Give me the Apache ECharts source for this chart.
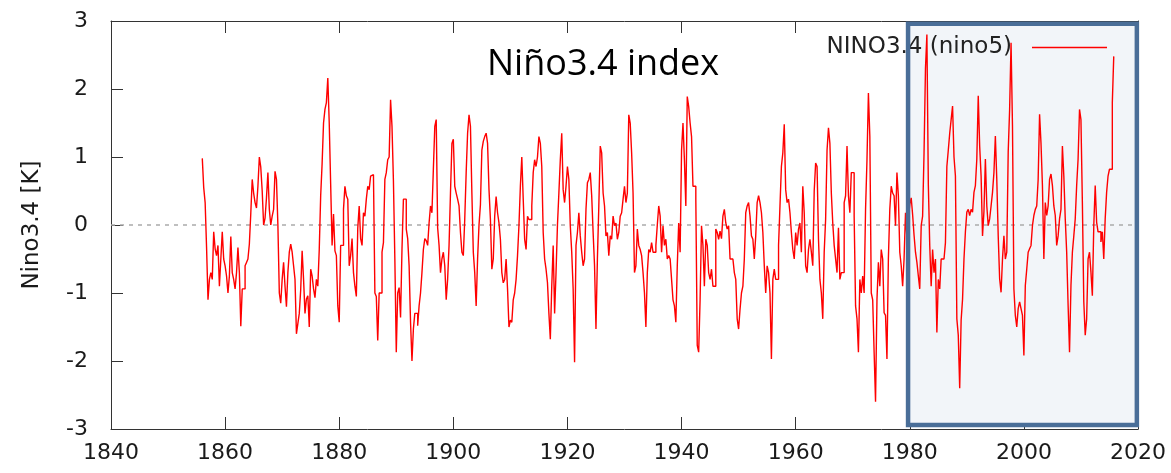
<!DOCTYPE html>
<html>
<head>
<meta charset="utf-8">
<title>Niño3.4 index</title>
<script src="https://cdn.jsdelivr.net/npm/echarts@6/dist/echarts.min.js"></script>
<style>
  html, body { margin: 0; padding: 0; background: #ffffff; }
  #chart { width: 1171px; height: 473px; }
</style>
</head>
<body>
<div id="chart"></div>
<script>
// Niño3.4 SST anomaly [K], quarterly values starting in 1856
const START_YEAR = 1856;
const STEP = 0.25;

const nino1850s = [
  0.98, 0.55, 0.33, -0.33,
  -1.1, -0.8, -0.7, -0.8,
  -0.1, -0.35, -0.45, -0.3,
  -0.9, -0.5, -0.1, -0.5
];
const nino1860s = [
  -0.6, -0.75, -1.0, -0.75,
  -0.17, -0.7, -0.8, -0.94,
  -0.7, -0.33, -0.7, -1.49,
  -0.94, -0.94, -0.6, -0.55,
  -0.5, -0.28, 0.17, 0.67,
  0.47, 0.33, 0.25, 0.57,
  1.0, 0.85, 0.5, 0.0,
  0.1, 0.4, 0.77, 0.23,
  0.0, 0.13, 0.23, 0.79,
  0.67, 0.0, -1.0, -1.15
];
const nino1870s = [
  -0.8, -0.55, -0.9, -1.2,
  -0.7, -0.4, -0.28, -0.4,
  -0.6, -0.8, -1.6, -1.45,
  -1.3, -0.95, -0.38, -0.8,
  -1.3, -1.09, -1.04, -1.5,
  -0.65, -0.75, -0.94, -1.07,
  -0.8, -0.9, -0.36, 0.43,
  0.9, 1.5, 1.7, 1.8,
  2.16, 1.5, 0.6, -0.3,
  0.16, -0.38, -0.45, -1.19
];
const nino1880s = [
  -1.43, -0.3, -0.3, 0.23,
  0.57, 0.43, 0.38, -0.6,
  -0.45, -0.2, -0.7, -0.9,
  -1.05, -0.05, 0.28, -0.2,
  -0.3, 0.18, 0.13, 0.38,
  0.57, 0.52, 0.72, 0.74,
  0.72, -1.0, -1.05, -1.7,
  -1.0, -1.0, -0.4, -0.26,
  0.67, 0.77, 0.96, 1.0,
  1.84, 1.45, 0.65, -0.5
];
const nino1890s = [
  -1.87, -1.0, -0.92, -1.36,
  -0.36, 0.38, 0.38, -0.06,
  -0.2, -0.6, -1.43, -2.0,
  -1.53, -1.3, -1.3, -1.48,
  -1.19, -1.0, -0.7, -0.36,
  -0.2, -0.23, -0.3, 0.03,
  0.28, 0.18, 0.82, 1.45,
  1.55, -0.04, -0.3, -0.7,
  -0.5, -0.4, -0.6, -1.1,
  -0.8, -0.3, 0.47, 1.2
];
const nino1900s = [
  1.26, 0.57, 0.47, 0.38,
  0.28, -0.11, -0.4, -0.45,
  0.08, 0.77, 1.35, 1.62,
  1.45, 0.47, -0.4, -0.7,
  -1.19, -0.5, 0.0, 0.3,
  1.1, 1.23, 1.3, 1.35,
  1.2, 0.52, 0.08, -0.65,
  -0.5, 0.13, 0.42, 0.18,
  0.03, -0.21, -0.7, -0.85,
  -0.8, -0.5, -0.94, -1.5
];
const nino1910s = [
  -1.4, -1.43, -1.1, -1.0,
  -0.8, -0.45, -0.01, 0.57,
  1.0, 0.38, -0.21, -0.36,
  0.13, 0.08, 0.08, 0.28,
  0.77, 0.96, 0.86, 1.0,
  1.3, 1.2, 0.86, -0.11,
  -0.5, -0.65, -0.85, -1.3,
  -1.68, -0.9, -0.3, -1.3,
  -0.7, 0.0, 0.47, 0.96,
  1.35, 0.52, 0.33, 0.57
];
const nino1920s = [
  0.86, 0.67, -0.01, -0.4,
  -0.94, -2.02, -0.3, -0.11,
  0.18, -0.16, -0.4, -0.6,
  -0.5, 0.23, 0.62, 0.67,
  0.77, 0.43, -0.11, -0.6,
  -1.53, -0.5, 0.28, 1.16,
  1.06, 0.47, 0.28, -0.16,
  -0.11, -0.45, -0.16, -0.21,
  0.13, -0.01, 0.03, -0.21,
  -0.11, 0.13, 0.18, 0.38
];
const nino1930s = [
  0.57, 0.33, 0.47, 1.62,
  1.5, 1.06, 0.47, -0.7,
  -0.6, -0.06, -0.3, -0.36,
  -0.45, -0.7, -1.0, -1.5,
  -0.7, -0.36, -0.4, -0.26,
  -0.4, -0.4, -0.3, 0.0,
  0.28, 0.13, -0.4, -0.01,
  -0.3, -0.21, -0.5, -0.45,
  -0.5, -0.8, -1.1, -1.19,
  -1.43, -0.6, 0.03, -0.4
];
const nino1940s = [
  1.1, 1.5, 0.96, 0.28,
  1.89, 1.74, 1.5, 1.3,
  0.57, 0.57, 0.38, -1.77,
  -1.87, -1.1, -0.01, -0.3,
  -0.9, -0.21, -0.3, -0.7,
  -0.8, -0.65, -0.9, -0.9,
  -0.06, -0.11, -0.21, -0.09,
  -0.2, 0.13, 0.23, 0.03,
  -0.06, -0.01, -0.5, -0.5,
  -0.5, -0.7, -0.8, -1.38
];
const nino1950s = [
  -1.53, -1.24, -1.0, -0.9,
  -0.5, 0.18, 0.28, 0.33,
  0.13, -0.16, -0.21, -0.5,
  -0.16, 0.33, 0.43, 0.33,
  0.18, -0.11, -0.6, -1.0,
  -0.6, -0.7, -1.0, -1.97,
  -0.8, -0.65, -0.8, -0.8,
  -0.3, 0.28, 0.86, 1.06,
  1.48, 0.52, 0.33, 0.38,
  0.18, -0.11, -0.36, -0.5
];
const nino1960s = [
  -0.11, -0.3, -0.06, 0.03,
  -0.4, 0.57, 0.18, -0.6,
  -0.7, -0.36, -0.21, -0.4,
  -0.6, 0.5, 0.91, 0.86,
  -0.21, -0.8, -1.0, -1.38,
  -0.4, 0.08, 1.1, 1.43,
  1.2, 0.47, 0.03, -0.3,
  -0.5, -0.7, -0.04, -0.8,
  -0.7, -0.7, 0.33, 0.43,
  1.16, 0.43, 0.18, 0.77
];
const nino1970s = [
  0.77, 0.13, -1.19, -1.38,
  -1.87, -0.8, -1.0, -0.75,
  -1.0, 0.23, 0.96, 1.94,
  1.3, -1.0, -1.1, -1.87,
  -2.6, -1.1, -0.55, -0.9,
  -0.36, -0.5, -1.29, -1.33,
  -1.97, -0.5, 0.23, 0.57,
  0.47, 0.43, -0.01, 0.77,
  0.43, -0.4, -0.6, -0.9,
  -0.5, 0.18, -0.2, 0.1
];
const nino1980s = [
  0.3, 0.4, 0.15, -0.15,
  -0.4, -0.55, -0.75, -0.94,
  -0.01, 0.13, 1.06, 2.3,
  2.8, 0.6, -0.3, -0.9,
  -0.36, -0.7, -0.5, -1.58,
  -0.8, -0.94, -0.5, -0.5,
  -0.5, -0.26, 0.86, 1.1,
  1.35, 1.55, 1.75, 1.0,
  0.72, -1.38, -1.62, -2.4,
  -1.4, -1.09, -0.5, -0.1
];
const nino1990s = [
  0.19, 0.23, 0.14, 0.23,
  0.19, 0.48, 0.58, 0.97,
  1.9, 1.16, 0.72, -0.16,
  0.2, 0.97, 0.28, -0.01,
  0.09, 0.28, 0.48, 0.77,
  1.31, 0.67, -0.16, -0.79,
  -0.99, -0.5, -0.16, -0.5,
  -0.4, 1.07, 1.7, 2.68,
  1.46, -0.94, -1.33, -1.5,
  -1.23, -1.13, -1.23, -1.33
];
const nino2000s = [
  -1.92, -0.89, -0.65, -0.4,
  -0.35, -0.3, -0.01, 0.14,
  0.23, 0.28, 0.67, 1.63,
  1.2, 0.58, -0.5, 0.33,
  0.14, 0.28, 0.67, 0.75,
  0.58, 0.28, 0.14, -0.3,
  -0.16, 0.09, 0.23, 1.16,
  0.72, 0.09, -0.4, -1.18,
  -1.87, -0.89, -0.4, -0.16,
  0.09, 0.58, 0.97, 1.7
];
const nino2010s = [
  1.55, 0.33, -1.13, -1.62,
  -1.38, -0.5, -0.4, -0.69,
  -1.04, -0.01, 0.58, 0.04,
  -0.1, -0.1, -0.25, -0.1,
  -0.5, 0.09, 0.48, 0.72,
  0.82, 0.82, 1.8, 2.48
];

// Axis extents and labels
const xAxisRange = [1840, 2020];
const xAxisStep = 20;
const yAxisRange = [-3, 3];
const yAxisStep = 1;

// Highlighted recent period (years, anomaly extent)
const highlightYears = [1979.7, 2019.8];
const highlightValues = [2.96, -2.94];

const seriesName = 'NINO3.4 (nino5)';
const chartTitle = 'Niño3.4 index';
const yAxisTitle = 'Nino3.4 [K]';

const ninoValues = [].concat(
  nino1850s, nino1860s, nino1870s, nino1880s, nino1890s,
  nino1900s, nino1910s, nino1920s, nino1930s, nino1940s,
  nino1950s, nino1960s, nino1970s, nino1980s, nino1990s,
  nino2000s, nino2010s
);
const ninoPoints = ninoValues.map((v, i) => [START_YEAR + i * STEP, v]);

const frameColor = '#333333';
const labelFont = 'DejaVu Sans';

const baseX = {
  type: 'value',
  min: xAxisRange[0], max: xAxisRange[1], interval: xAxisStep,
  splitLine: { show: false },
  axisLine: { show: true, onZero: false, lineStyle: { color: frameColor, width: 1 } },
  axisTick: { show: true, inside: true, length: 12, lineStyle: { color: frameColor, width: 1 } }
};
const baseY = {
  type: 'value',
  min: yAxisRange[0], max: yAxisRange[1], interval: yAxisStep,
  splitLine: { show: false },
  axisLine: { show: true, onZero: false, lineStyle: { color: frameColor, width: 1 } },
  axisTick: { show: true, inside: true, length: 12, lineStyle: { color: frameColor, width: 1 } }
};

const chart = echarts.init(document.getElementById('chart'), null, { renderer: 'canvas' });

chart.setOption({
  animation: false,
  backgroundColor: '#ffffff',
  grid: { left: 111, right: 33, top: 21, bottom: 44, containLabel: false },
  graphic: [{
    type: 'text',
    x: 487, y: 65,
    z: 20,
    style: {
      text: chartTitle,
      font: '36px "Open Sans"',
      fill: '#000000',
      align: 'left',
      verticalAlign: 'middle'
    }
  }],
  legend: {
    data: [seriesName],
    right: 59,
    top: 31,
    align: 'right',
    icon: 'rect',
    itemWidth: 75,
    itemHeight: 1.5,
    selectedMode: false,
    textStyle: {
      fontFamily: labelFont,
      fontSize: 23,
      color: '#222222',
      padding: [0, 15, 0, 0]
    }
  },
  xAxis: [
    Object.assign({}, baseX, {
      position: 'bottom',
      axisLabel: {
        show: true, margin: 13, fontFamily: labelFont, fontSize: 22, color: '#1a1a1a',
        formatter: (v) => String(v)
      }
    }),
    Object.assign({}, baseX, { position: 'top', axisLabel: { show: false } })
  ],
  yAxis: [
    Object.assign({}, baseY, {
      position: 'left',
      name: yAxisTitle,
      nameLocation: 'middle',
      nameGap: 67,
      nameRotate: 90,
      nameTextStyle: { fontFamily: labelFont, fontSize: 23, color: '#1a1a1a' },
      axisLabel: { show: true, margin: 23, fontFamily: labelFont, fontSize: 22, color: '#1a1a1a' }
    }),
    Object.assign({}, baseY, { position: 'right', axisLabel: { show: false } })
  ],
  series: [
    {
      name: seriesName,
      type: 'line',
      xAxisIndex: 0,
      yAxisIndex: 0,
      data: ninoPoints,
      step: 'end',
      showSymbol: false,
      symbol: 'none',
      color: '#ff0000',
      lineStyle: { color: '#ff0000', width: 1.4 },
      z: 3,
      silent: true,
      markArea: {
        silent: true,
        z: 1,
        itemStyle: { color: '#f2f5f9', borderWidth: 0 },
        data: [[
          { xAxis: highlightYears[0], yAxis: highlightValues[0] },
          { xAxis: highlightYears[1], yAxis: highlightValues[1] }
        ]]
      },
      markLine: {
        silent: true,
        z: 2,
        symbol: ['none', 'none'],
        label: { show: false },
        lineStyle: { color: '#aaaaaa', type: [4, 5], width: 1.5 },
        data: [{ yAxis: 0 }]
      }
    },
    {
      name: 'highlight-frame',
      type: 'line',
      data: [],
      silent: true,
      z: 6,
      markArea: {
        silent: true,
        z: 6,
        itemStyle: { color: 'rgba(0,0,0,0)', borderColor: '#4a6e98', borderWidth: 4.5 },
        data: [[
          { xAxis: highlightYears[0], yAxis: highlightValues[0] },
          { xAxis: highlightYears[1], yAxis: highlightValues[1] }
        ]]
      }
    }
  ]
});
</script>
</body>
</html>
